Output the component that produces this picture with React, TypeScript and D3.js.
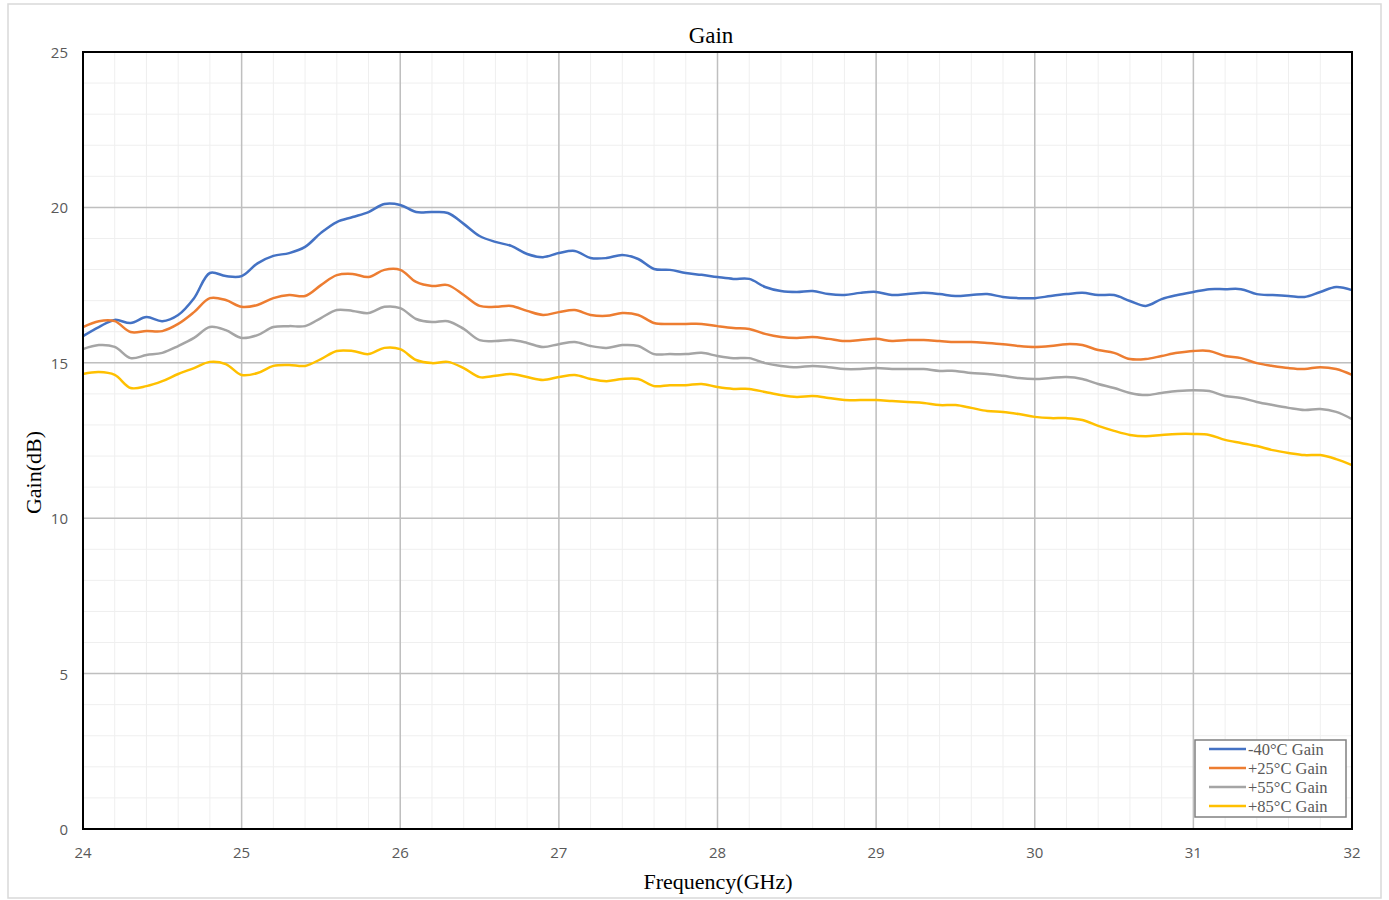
import React from 'react';
import * as d3 from 'd3';

const freqs: number[] = d3.range(0, 81).map(i => +(24 + i * 0.1).toFixed(1));

const gainM40: number[] = [
  15.86, 16.15, 16.38, 16.28, 16.47, 16.34, 16.54, 17.08, 17.89, 17.79,
  17.79, 18.2, 18.44, 18.53, 18.73, 19.18, 19.53, 19.69, 19.85, 20.11,
  20.08, 19.85, 19.85, 19.82, 19.47, 19.08, 18.89, 18.76, 18.5, 18.4,
  18.53, 18.6, 18.37, 18.37, 18.47, 18.34, 18.02, 17.99, 17.89, 17.83,
  17.76, 17.7, 17.7, 17.44, 17.31, 17.28, 17.31, 17.21, 17.18, 17.25,
  17.28, 17.18, 17.21, 17.25, 17.21, 17.15, 17.18, 17.21, 17.12, 17.08,
  17.08, 17.15, 17.21, 17.25, 17.18, 17.18, 16.99, 16.83, 17.05, 17.18,
  17.28, 17.37, 17.37, 17.37, 17.21, 17.18, 17.15, 17.12, 17.28, 17.44,
  17.34,
];

const gainP25: number[] = [
  16.15, 16.34, 16.34, 15.99, 16.02, 16.02, 16.25, 16.63, 17.08, 17.02,
  16.8, 16.86, 17.08, 17.18, 17.15, 17.5, 17.82, 17.86, 17.76, 17.99,
  17.99, 17.6, 17.47, 17.5, 17.18, 16.83, 16.8, 16.83, 16.67, 16.54,
  16.63, 16.7, 16.54, 16.51, 16.6, 16.54, 16.28, 16.25, 16.25, 16.25,
  16.18, 16.12, 16.09, 15.93, 15.83, 15.8, 15.83, 15.77, 15.7, 15.73,
  15.77, 15.7, 15.73, 15.73, 15.7, 15.67, 15.67, 15.64, 15.6, 15.54,
  15.51, 15.54, 15.6, 15.57, 15.41, 15.32, 15.12, 15.12, 15.22, 15.32,
  15.38, 15.38, 15.22, 15.15, 14.99, 14.9, 14.83, 14.8, 14.86, 14.8,
  14.61,
];

const gainP55: number[] = [
  15.44, 15.57, 15.51, 15.15, 15.25, 15.32, 15.54, 15.8, 16.15, 16.05,
  15.8, 15.89, 16.15, 16.18, 16.18, 16.44, 16.7, 16.67, 16.6, 16.8,
  16.76, 16.41, 16.31, 16.34, 16.09, 15.73, 15.7, 15.73, 15.64, 15.51,
  15.6, 15.67, 15.54, 15.48, 15.57, 15.54, 15.28, 15.28, 15.28, 15.32,
  15.22, 15.15, 15.15, 14.99, 14.9, 14.86, 14.9, 14.86, 14.8, 14.8,
  14.83, 14.8, 14.8, 14.8, 14.74, 14.74, 14.67, 14.64, 14.58, 14.51,
  14.48, 14.51, 14.54, 14.48, 14.32, 14.19, 14.03, 13.96, 14.03, 14.09,
  14.12, 14.09, 13.93, 13.87, 13.74, 13.64, 13.55, 13.48, 13.51, 13.42,
  13.19,
];

const gainP85: number[] = [
  14.64, 14.7, 14.61, 14.19, 14.25, 14.41, 14.64, 14.83, 15.03, 14.96,
  14.61, 14.67, 14.9, 14.93, 14.9, 15.12, 15.38, 15.38, 15.28, 15.48,
  15.44, 15.09, 14.99, 15.03, 14.83, 14.54, 14.58, 14.64, 14.54, 14.45,
  14.54, 14.61, 14.48, 14.41, 14.48, 14.48, 14.25, 14.28, 14.28, 14.32,
  14.22, 14.16, 14.16, 14.06, 13.96, 13.9, 13.93, 13.87, 13.8, 13.8,
  13.8, 13.77, 13.74, 13.71, 13.64, 13.64, 13.55, 13.45, 13.42, 13.35,
  13.26, 13.22, 13.22, 13.16, 12.97, 12.81, 12.68, 12.64, 12.68, 12.71,
  12.71, 12.68, 12.52, 12.42, 12.32, 12.19, 12.1, 12.03, 12.03, 11.9,
  11.71,
];

const seriesNames = ['-40°C Gain', '+25°C Gain', '+55°C Gain', '+85°C Gain'];
const seriesValues = [gainM40, gainP25, gainP55, gainP85];
const seriesColors = ['#4472C4', '#ED7D31', '#A5A5A5', '#FFC000'];

const xTicks = [24, 25, 26, 27, 28, 29, 30, 31, 32];
const yTicks = [0, 5, 10, 15, 20, 25];

const W = 1389;
const H = 900;
const M = { left: 83, right: 1352, top: 52, bottom: 829 };

export default function App() {
  const x = d3.scaleLinear().domain([24, 32]).range([M.left, M.right]);
  const y = d3.scaleLinear().domain([0, 25]).range([M.bottom, M.top]);

  const line = d3
    .line<[number, number]>()
    .x(d => x(d[0]))
    .y(d => y(d[1]))
    .curve(d3.curveCatmullRom.alpha(0.5));

  const minorX = d3.range(24, 32.001, 0.2);
  const minorY = d3.range(0, 25.001, 1);

  const serif = '"Liberation Serif", "Times New Roman", serif';
  const sans = '"Open Sans", "Liberation Sans", sans-serif';

  return (
    <div style={{ position: 'fixed', left: 0, top: 0 }}>
      <svg width={W} height={H} style={{ display: 'block', background: '#fff' }}>
        <rect x={8} y={4} width={1373} height={894} fill="#fff" stroke="#d9d9d9" strokeWidth={1.5} />

        {/* minor grid */}
        {minorX.map((v, i) => (
          <line key={'mx' + i} x1={x(v)} x2={x(v)} y1={M.top} y2={M.bottom} stroke="#efefef" strokeWidth={1} />
        ))}
        {minorY.map((v, i) => (
          <line key={'my' + i} x1={M.left} x2={M.right} y1={y(v)} y2={y(v)} stroke="#efefef" strokeWidth={1} />
        ))}

        {/* major grid */}
        {xTicks.map(v => (
          <line key={'gx' + v} x1={x(v)} x2={x(v)} y1={M.top} y2={M.bottom} stroke="#bfbfbf" strokeWidth={1.5} />
        ))}
        {yTicks.map(v => (
          <line key={'gy' + v} x1={M.left} x2={M.right} y1={y(v)} y2={y(v)} stroke="#bfbfbf" strokeWidth={1.5} />
        ))}

        {/* series */}
        {seriesValues.map((vals, si) => (
          <path
            key={seriesNames[si]}
            d={line(vals.map((v, i) => [freqs[i], v] as [number, number])) || ''}
            fill="none"
            stroke={seriesColors[si]}
            strokeWidth={2.5}
            strokeLinejoin="round"
          />
        ))}

        {/* plot border */}
        <rect x={M.left} y={M.top} width={M.right - M.left} height={M.bottom - M.top} fill="none" stroke="#000" strokeWidth={2} />

        {/* tick labels */}
        {yTicks.map(v => (
          <text key={'ty' + v} x={68} y={y(v)} textAnchor="end" dominantBaseline="central" fontFamily={sans} fontSize={15} fill="#595959">
            {v}
          </text>
        ))}
        {xTicks.map(v => (
          <text key={'tx' + v} x={x(v)} y={852} textAnchor="middle" dominantBaseline="central" fontFamily={sans} fontSize={15} fill="#595959">
            {v}
          </text>
        ))}

        {/* titles */}
        <text x={711} y={35} textAnchor="middle" dominantBaseline="central" fontFamily={serif} fontSize={23} fill="#000">
          Gain
        </text>
        <text x={718} y={881} textAnchor="middle" dominantBaseline="central" fontFamily={serif} fontSize={22} fill="#000">
          Frequency(GHz)
        </text>
        <text
          transform={`translate(33, ${(M.top + M.bottom) / 2 + 32}) rotate(-90)`}
          textAnchor="middle"
          dominantBaseline="central"
          fontFamily={serif}
          fontSize={22}
          fill="#000"
        >
          Gain(dB)
        </text>

        {/* legend */}
        <g>
          <rect x={1195} y={740} width={151} height={77} fill="#fff" stroke="#808080" strokeWidth={1.5} />
          {seriesNames.map((name, i) => (
            <g key={name} transform={`translate(1209, ${749 + i * 19})`}>
              <line x1={0} x2={37} y1={0} y2={0} stroke={seriesColors[i]} strokeWidth={2.5} />
              <text x={39} y={0.5} dominantBaseline="central" fontFamily={serif} fontSize={16.5} fill="#595959">
                {name}
              </text>
            </g>
          ))}
        </g>
      </svg>
    </div>
  );
}
